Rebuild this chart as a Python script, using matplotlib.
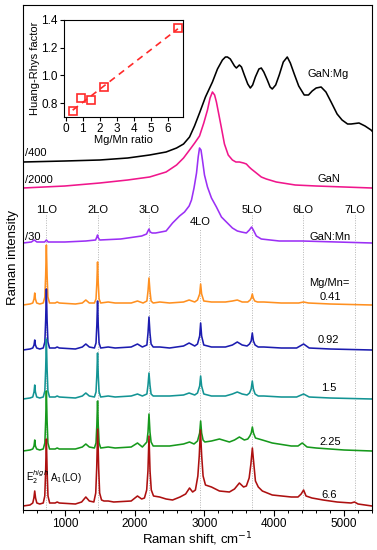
import numpy as np
import matplotlib
matplotlib.use('Agg')
import matplotlib.pyplot as plt
from matplotlib.ticker import MultipleLocator

plt.rcParams['font.family'] = ['Liberation Sans', 'DejaVu Sans']

# Raman spectra: (shift cm-1, intensity above own baseline), arbitrary units
gan_mg = [(400, 0), (1000, 1), (1500, 2), (1900, 4), (2214, 7), (2450, 10), (2600, 14),
          (2700, 18), (2786, 25), (2857, 36), (2929, 49), (3014, 65), (3114, 80), (3186, 93),
          (3257, 102), (3300, 105), (3329, 105), (3370, 103), (3430, 96), (3457, 94), (3500, 97),
          (3530, 95), (3571, 87), (3620, 78), (3657, 74), (3690, 77), (3729, 85), (3780, 93),
          (3814, 94), (3850, 90), (3900, 82), (3940, 75), (3971, 73), (4020, 77), (4071, 87),
          (4129, 100), (4186, 105), (4230, 99), (4286, 88), (4350, 76), (4429, 67), (4490, 67),
          (4543, 71), (4600, 74), (4671, 75), (4740, 70), (4814, 60), (4900, 48), (4971, 42),
          (5050, 38), (5100, 38), (5214, 39), (5300, 36), (5386, 32), (5400, 31)]

gan = [(400, 0), (1000, 2), (1500, 5), (1900, 8), (2214, 11), (2450, 16), (2600, 23), (2700, 30),
       (2786, 38), (2860, 45), (2929, 52), (2990, 65), (3043, 78), (3080, 90), (3114, 96),
       (3145, 93), (3171, 86), (3210, 72), (3243, 60), (3286, 44), (3340, 33), (3400, 28),
       (3450, 26), (3500, 26), (3560, 25), (3600, 24), (3640, 21), (3671, 19), (3743, 15),
       (3814, 11), (3886, 9), (4029, 6), (4300, 3), (4600, 2), (5000, 1), (5400, 0)]

gan_mn = [(400, 0), (520, 1), (560, 3), (600, 1), (710, 1), (735, 3), (760, 1), (1000, 1),
          (1300, 2), (1440, 3), (1458, 6), (1468, 8), (1480, 5), (1500, 3), (1800, 4), (2100, 7),
          (2170, 9), (2190, 12), (2205, 14), (2222, 11), (2250, 10), (2300, 10), (2450, 12),
          (2543, 20), (2643, 27), (2714, 31), (2780, 37), (2814, 43), (2850, 55), (2886, 70),
          (2910, 86), (2929, 95), (2950, 93), (2971, 83), (3000, 68), (3043, 56), (3100, 45),
          (3171, 36), (3243, 26), (3314, 21), (3400, 15), (3471, 12), (3529, 11), (3600, 10),
          (3643, 13), (3675, 16), (3700, 13), (3743, 7), (3814, 4), (4071, 2), (4400, 2),
          (5400, 0)]

mg041 = [(400, 0), (500, 1), (540, 2), (558, 6), (568, 12), (578, 6), (596, 2), (640, 1),
         (690, 2), (713, 8), (725, 30), (735, 60), (745, 30), (757, 8), (780, 2), (860, 2),
         (890, 3), (920, 2), (1150, 1), (1250, 2), (1300, 5), (1350, 2), (1423, 2), (1446, 6),
         (1458, 22), (1468, 43), (1478, 22), (1490, 6), (1513, 2), (1620, 3), (1720, 2),
         (1950, 2), (2040, 4), (2120, 2), (2175, 4), (2191, 14), (2205, 27), (2219, 14),
         (2235, 4), (2265, 2), (2360, 3), (2500, 2), (2700, 3), (2780, 5), (2860, 3), (2900, 5),
         (2931, 11), (2945, 21), (2959, 11), (2990, 4), (3100, 3), (3300, 3), (3400, 4),
         (3470, 5), (3540, 3), (3620, 3), (3655, 5), (3671, 7), (3685, 11), (3699, 7), (3720, 4),
         (3760, 3), (3850, 3), (4100, 2), (4350, 2), (4420, 3), (4490, 2), (4800, 1), (5400, 0)]

mg092 = [(400, 0), (500, 1), (540, 2), (558, 5), (568, 10), (578, 5), (596, 2), (640, 1),
         (690, 2), (713, 8), (725, 30), (735, 61), (745, 30), (757, 8), (780, 2), (860, 2),
         (890, 3), (920, 2), (1150, 1), (1250, 3), (1300, 6), (1350, 3), (1423, 2), (1446, 7),
         (1458, 25), (1468, 49), (1478, 25), (1490, 7), (1513, 2), (1620, 3), (1720, 2),
         (1950, 3), (2040, 6), (2110, 3), (2175, 5), (2191, 17), (2205, 33), (2219, 17),
         (2235, 6), (2265, 3), (2360, 3), (2500, 2), (2700, 4), (2780, 7), (2860, 4), (2900, 6),
         (2931, 14), (2945, 27), (2959, 14), (2990, 5), (3100, 3), (3300, 3), (3400, 5),
         (3470, 8), (3540, 5), (3610, 4), (3645, 6), (3669, 9), (3685, 17), (3701, 9), (3725, 5),
         (3770, 3), (3850, 3), (4100, 2), (4320, 2), (4420, 6), (4500, 2), (4800, 1), (5400, 0)]

mg15 = [(400, 0), (500, 1), (540, 2), (558, 7), (568, 14), (578, 7), (596, 2), (640, 1),
        (690, 2), (713, 8), (725, 30), (735, 60), (745, 30), (757, 8), (780, 2), (860, 2),
        (890, 3), (920, 2), (1150, 1), (1250, 3), (1300, 6), (1350, 3), (1423, 2), (1446, 7),
        (1458, 24), (1468, 46), (1478, 24), (1490, 7), (1513, 2), (1620, 3), (1720, 2),
        (1950, 3), (2040, 5), (2110, 3), (2175, 5), (2191, 14), (2205, 26), (2219, 14),
        (2235, 5), (2265, 3), (2360, 3), (2500, 3), (2700, 4), (2780, 6), (2860, 4), (2900, 6),
        (2931, 13), (2945, 23), (2959, 13), (2990, 5), (3100, 3), (3300, 3), (3400, 5),
        (3470, 7), (3540, 5), (3610, 4), (3645, 6), (3669, 10), (3685, 18), (3701, 10),
        (3725, 5), (3770, 3), (3850, 3), (4100, 2), (4320, 2), (4420, 5), (4500, 2), (4800, 1),
        (5400, 0)]

mg225 = [(400, 0), (500, 1), (540, 2), (558, 5), (568, 11), (578, 5), (596, 2), (640, 1),
         (690, 2), (713, 8), (725, 30), (735, 60), (745, 30), (757, 8), (780, 2), (860, 2),
         (890, 3), (920, 2), (1150, 2), (1250, 4), (1300, 7), (1350, 4), (1423, 3), (1446, 8),
         (1458, 26), (1468, 50), (1478, 26), (1490, 8), (1513, 3), (1620, 4), (1720, 3),
         (1950, 4), (2040, 8), (2110, 4), (2175, 9), (2191, 19), (2205, 37), (2219, 19),
         (2235, 9), (2265, 5), (2360, 5), (2500, 5), (2700, 7), (2786, 9), (2850, 7), (2900, 10),
         (2931, 18), (2945, 30), (2959, 18), (2980, 11), (3005, 9), (3100, 10), (3214, 12),
         (3357, 9), (3430, 11), (3500, 14), (3571, 11), (3620, 12), (3650, 15), (3670, 18),
         (3686, 24), (3702, 18), (3730, 13), (3829, 11), (3971, 8), (4243, 5), (4340, 5),
         (4400, 8), (4470, 4), (4600, 3), (5000, 1), (5400, 0)]

mg66 = [(400, 0), (500, 1), (540, 3), (556, 8), (568, 15), (580, 8), (598, 3), (640, 2),
        (690, 3), (712, 10), (724, 34), (735, 67), (746, 34), (758, 10), (782, 3), (860, 3),
        (890, 4), (920, 3), (1150, 2), (1240, 4), (1300, 9), (1350, 5), (1415, 4), (1442, 13),
        (1456, 38), (1470, 77), (1484, 38), (1498, 13), (1525, 6), (1560, 5), (1620, 5),
        (1700, 4), (1950, 5), (2040, 10), (2100, 7), (2140, 8), (2172, 16), (2190, 35),
        (2205, 70), (2220, 35), (2238, 16), (2270, 10), (2357, 9), (2450, 7), (2543, 6),
        (2650, 9), (2730, 12), (2786, 18), (2830, 14), (2870, 16), (2905, 30), (2925, 50),
        (2942, 76), (2960, 50), (2980, 30), (3014, 21), (3100, 19), (3214, 15), (3357, 14),
        (3430, 17), (3500, 23), (3560, 19), (3600, 20), (3640, 28), (3665, 42), (3686, 58),
        (3707, 42), (3730, 25), (3771, 19), (3829, 15), (3971, 11), (4243, 9), (4340, 9),
        (4385, 12), (4420, 16), (4455, 10), (4540, 8), (4700, 6), (4900, 4), (5100, 3),
        (5150, 4), (5200, 2), (5400, 0)]

spectra = [gan_mg, gan, gan_mn, mg041, mg092, mg15, mg225, mg66]
offsets = [388, 362, 307, 245, 200, 151, 99, 44]
colors = ['black', '#f0168c', '#9b30f5', '#ff9020', '#1c1cb0', '#139494', '#16991c', '#ad1010']

lo_pos = [735, 1470, 2205, 2940, 3675, 4410, 5160]
lo_labels = ['1LO', '2LO', '3LO', '4LO', '5LO', '6LO', '7LO']

# inset: Huang-Rhys factor vs Mg/Mn
mgmn = [0.41, 0.92, 1.5, 2.25, 6.6]
hr = [0.74, 0.84, 0.82, 0.92, 1.34]

fig = plt.figure(figsize=(3.77, 5.5), dpi=100)
ax = fig.add_axes([23 / 377, 40 / 550, 349 / 377, 505 / 550])

for i, lo in enumerate(lo_pos):
    top = 322 if i == 3 else 335
    ax.vlines(lo, 40, top, colors='#b4b4b4', linestyles=(0, (1, 1.5)), lw=0.7, zorder=0)
    ax.text(lo, 328 if i == 3 else 340, lo_labels[i], ha='center', va='center', fontsize=8)

for pts, off, c in zip(spectra, offsets, colors):
    x, y = zip(*pts)
    ax.plot(x, np.array(y) + off, color=c, lw=1.15)

ax.set_xlim(400, 5400)
ax.set_ylim(40, 545)
ax.set_yticks([])
ax.xaxis.set_major_locator(MultipleLocator(1000))
ax.xaxis.set_minor_locator(MultipleLocator(200))
ax.tick_params(axis='x', which='major', direction='out', length=4, width=0.8, labelsize=8.5, pad=2)
ax.tick_params(axis='x', which='minor', direction='out', length=2.5, width=0.7)
for s in ax.spines.values():
    s.set_linewidth(0.8)
ax.set_xlabel('Raman shift, cm$^{-1}$', fontsize=9.5, labelpad=0)
ax.set_ylabel('Raman intensity', fontsize=9.5)
ax.yaxis.set_label_coords(-0.012, 0.5)

fs = 8
ax.text(430, 397, '/400', fontsize=fs, va='center')
ax.text(430, 370, '/2000', fontsize=fs, va='center')
ax.text(430, 313, '/30', fontsize=fs, va='center')
ax.text(4470, 476, 'GaN:Mg', fontsize=fs, va='center')
ax.text(4614, 371, 'GaN', fontsize=fs, va='center')
ax.text(4500, 313, 'GaN:Mn', fontsize=fs, va='center')
ax.text(4500, 267, 'Mg/Mn=', fontsize=fs, va='center')
ax.text(4643, 253, '0.41', fontsize=fs, va='center')
ax.text(4614, 210, '0.92', fontsize=fs, va='center')
ax.text(4671, 162, '1.5', fontsize=fs, va='center')
ax.text(4643, 108, '2.25', fontsize=fs, va='center')
ax.text(4671, 55, '6.6', fontsize=fs, va='center')
ax.text(443, 73, 'E$_2^{high}$', fontsize=7, va='center')
ax.text(786, 72, 'A$_1$(LO)', fontsize=7, va='center')

ins = fig.add_axes([64 / 377, (550 - 117) / 550, 119 / 377, 97 / 550])
ins.set_facecolor('white')
fit = np.polyfit(mgmn, hr, 1)
xs = np.array([mgmn[0], mgmn[-1]])
ins.plot(xs, np.polyval(fit, xs), color='#ff2a2a', lw=1.2, dashes=(4, 3))
ins.plot(mgmn, hr, 's', mfc='none', mec='#ff2a2a', ms=6, mew=1.2)
ins.set_xlim(-0.1, 6.9)
ins.set_ylim(0.7, 1.4)
ins.set_xticks(range(7))
ins.set_yticks([0.8, 1.0, 1.2, 1.4])
ins.tick_params(direction='out', length=3, width=0.8, labelsize=8.5, pad=1.5)
for s in ins.spines.values():
    s.set_linewidth(0.8)
ins.set_xlabel('Mg/Mn ratio', fontsize=8, labelpad=0)
ins.set_ylabel('Huang-Rhys factor', fontsize=8, labelpad=1)

fig.savefig('out.png', dpi=100)
